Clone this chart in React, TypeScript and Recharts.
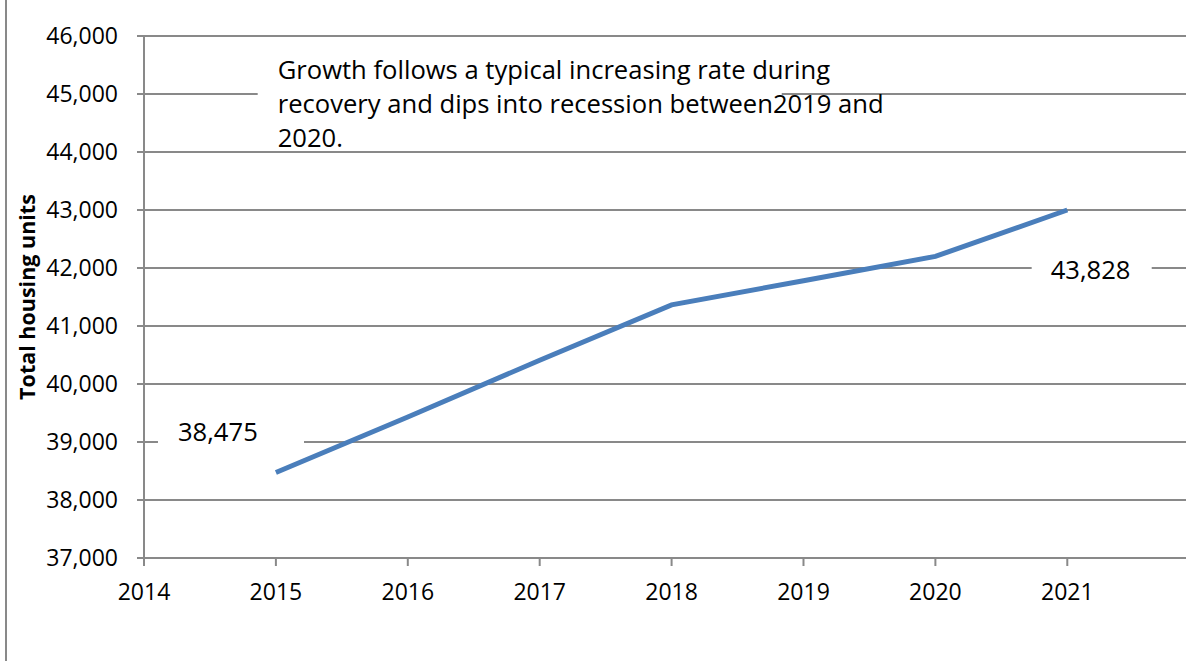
import { CartesianGrid, Line, LineChart, ReferenceArea, XAxis, YAxis } from "recharts";

const years = [2015, 2016, 2017, 2018, 2019, 2020, 2021];
const housingUnits = [38475, 39430, 40410, 41365, 41780, 42200, 43000];
const xTicks = [2014, 2015, 2016, 2017, 2018, 2019, 2020, 2021];
const yTicks = [37000, 38000, 39000, 40000, 41000, 42000, 43000, 44000, 45000, 46000];
const noteLines = [
  "Growth follows a typical increasing rate during",
  "recovery and dips into recession between2019 and",
  "2020.",
];
const firstLabel = ["38,475"];
const lastLabel = ["43,828"];

const data = years.map((year, i) => ({ year, units: housingUnits[i] }));

const font = "'Open Sans', 'Noto Sans', sans-serif";
const gridColor = "#898989";

// white text box that hides the gridlines behind it
const textBox =
  (lines: string[], padX: number, baseline: number, lineGap: number, size: number) =>
  (props: any) => {
    const { x, y, width, height } = props;
    return (
      <g>
        <rect x={x} y={y} width={width} height={height} fill="#ffffff" />
        <text x={x + padX} y={y + baseline} fontSize={size} fontFamily={font} fill="#000">
          {lines.map((line, i) => (
            <tspan key={i} x={x + padX} dy={i === 0 ? 0 : lineGap}>
              {line}
            </tspan>
          ))}
        </text>
      </g>
    );
  };

export default function App() {
  return (
    <div
      style={{
        position: "absolute",
        left: 0,
        top: 0,
        width: 1201,
        height: 661,
        background: "#fff",
      }}
    >
      <div
        style={{
          position: "absolute",
          left: 5,
          top: 0,
          width: 0,
          height: 661,
          borderLeft: `2px solid ${gridColor}`,
        }}
      />
      <LineChart
        width={1201}
        height={661}
        data={data}
        margin={{ top: 36, right: 15, bottom: 0, left: 0 }}
        style={{ position: "absolute", left: 0, top: 0 }}
      >
        <CartesianGrid vertical={false} stroke={gridColor} strokeWidth={2} />
        <XAxis
          dataKey="year"
          type="number"
          domain={[2014, 2021.9]}
          allowDataOverflow
          ticks={xTicks}
          height={103}
          tickSize={8}
          tickMargin={18}
          axisLine={{ stroke: gridColor, strokeWidth: 2 }}
          tickLine={{ stroke: gridColor, strokeWidth: 2 }}
          tick={{ fill: "#000", fontSize: 23, fontFamily: font }}
        />
        <YAxis
          type="number"
          domain={[37000, 46000]}
          allowDataOverflow
          ticks={yTicks}
          width={144}
          tickSize={7}
          tickMargin={19}
          tickFormatter={(v) => Number(v).toLocaleString("en-US")}
          axisLine={{ stroke: gridColor, strokeWidth: 2 }}
          tickLine={{ stroke: gridColor, strokeWidth: 2 }}
          tick={{ fill: "#000", fontSize: 23, fontFamily: font }}
          label={{
            content: (p: any) => {
              const vb = p.viewBox || { x: 0, y: 36, height: 522 };
              const cx = vb.x + 26;
              const cy = vb.y + vb.height / 2;
              return (
                <text
                  x={cx}
                  y={cy}
                  transform={`rotate(-90, ${cx}, ${cy})`}
                  textAnchor="middle"
                  dominantBaseline="central"
                  fontSize={21.5}
                  fontWeight="bold"
                  fontFamily={font}
                  fill="#000"
                >
                  Total housing units
                </text>
              );
            },
          }}
        />
        <ReferenceArea
          x1={2014.862}
          x2={2018.835}
          y1={44800}
          y2={45650}
          ifOverflow="visible"
          shape={textBox(noteLines, 20, 22.7, 34, 25.6)}
        />
        <ReferenceArea
          x1={2014.106}
          x2={2015.213}
          y1={38850}
          y2={39470}
          ifOverflow="visible"
          shape={textBox(firstLabel, 20, 26.7, 0, 25.6)}
        />
        <ReferenceArea
          x1={2020.73}
          x2={2021.64}
          y1={41620}
          y2={42300}
          ifOverflow="visible"
          shape={textBox(lastLabel, 19, 28.4, 0, 25.6)}
        />
        <Line
          type="linear"
          dataKey="units"
          stroke="#4A7EBB"
          strokeWidth={5}
          dot={false}
          isAnimationActive={false}
        />
      </LineChart>
    </div>
  );
}
